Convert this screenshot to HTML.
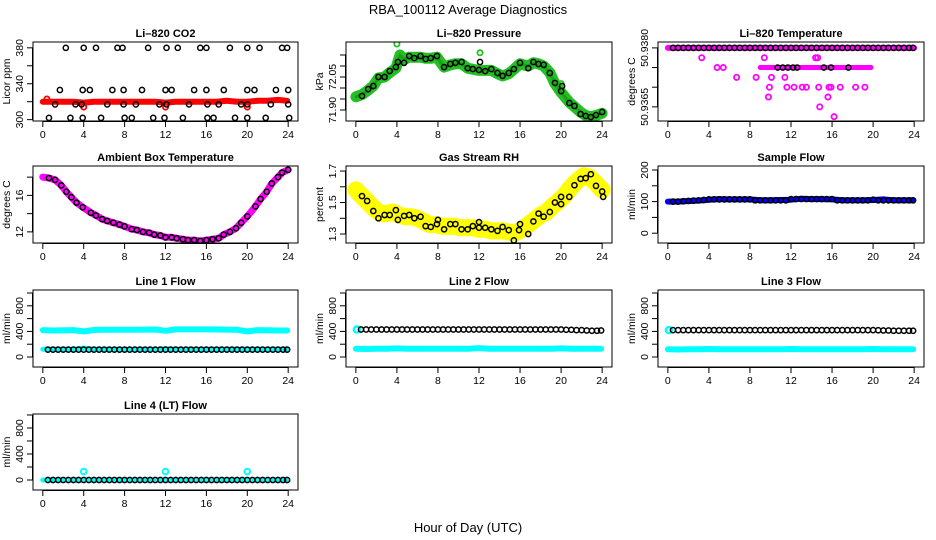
<!DOCTYPE html>
<html><head><meta charset="utf-8"><style>
html,body{margin:0;padding:0;background:#fff;}
svg{display:block;font-family:"Liberation Sans",Arial,sans-serif;}
</style></head><body>
<svg id="chart" width="936" height="540" viewBox="0 0 936 540">
<text x="468" y="14" text-anchor="middle" font-size="13">RBA_100112  Average Diagnostics</text>
<text x="468" y="532" text-anchor="middle" font-size="13">Hour of Day (UTC)</text>
</svg>
<script>
// ---- data ----
const xTicks = [0,4,8,12,16,20,24];
const halfHours = [0.5,1,1.5,2,2.5,3,3.5,4,4.5,5,5.5,6,6.5,7,7.5,8,8.5,9,9.5,10,10.5,11,11.5,12,12.5,13,13.5,14,14.5,15,15.5,16,16.5,17,17.5,18,18.5,19,19.5,20,20.5,21,21.5,22,22.5,23,23.5,23.9];
const hours = [0,1,2,3,4,5,6,7,8,9,10,11,12,13,14,15,16,17,18,19,20,21,22,23,23.9];

// CO2
const co2RedVals = [320,320,320,320,319,320,320,320,320,320,320,320,319,320,320,320,320,320,321,320,320,321,321,322,321];
const co2RedOutHours = [0.4,4,12,20];
const co2RedOutVals = [323,314,314,314];
const co2BlackHours = [2.25,4.0,5.2,7.3,7.8,10.3,12.1,13.2,15.4,16.0,18.3,20.0,21.2,23.4,23.9,
 1.67,3.9,4.6,6.8,7.9,9.7,12.0,12.6,14.8,16.0,17.7,20.0,20.7,22.8,24.0,
 1.2,3.2,3.8,6.3,7.9,9.1,11.4,12.1,14.3,16.1,17.2,19.4,20.0,22.3,24.0,
 0.6,2.7,3.9,5.7,8.0,8.7,10.8,11.9,13.7,16.1,16.7,18.8,20.0,21.8,24.1];
const co2BlackVals = [380,380,380,380,380,380,380,380,380,380,380,380,380,380,380,
 333,333,333,333,333,333,333,333,333,333,333,333,333,333,333,
 317,317,317,317,317,317,317,317,317,317,317,317,317,317,317,
 302,302,302,302,302,302,302,302,302,302,302,302,302,302,302];

// Pressure
const presHours = [0.6,1.2,1.7,2.2,2.8,3.3,3.9,4.1,4.7,5.2,5.7,6.3,6.8,7.3,7.9,8.6,9.2,9.7,10.3,10.9,11.4,12.0,12.1,12.6,13.2,13.8,14.3,14.9,15.4,16.0,16.8,17.3,17.8,18.3,18.9,19.4,20.0,20.1,20.8,21.3,21.9,22.4,22.9,23.4,24.0];
const presVals = [71.964,71.995,72.009,72.05,72.05,72.077,72.095,72.118,72.114,72.145,72.136,72.145,72.132,72.136,72.145,72.095,72.109,72.114,72.118,72.09,72.086,72.082,72.118,72.077,72.086,72.068,72.055,72.068,72.086,72.114,72.09,72.118,72.109,72.105,72.068,72.023,71.986,72.009,71.932,71.918,71.882,71.873,71.868,71.877,71.891];
const presGreenHours = [0,0.6,1.2,1.7,2.2,2.8,3.3,3.9,4.3,4.7,5.2,5.7,6.3,6.8,7.3,7.9,8.6,9.2,9.7,10.3,10.9,11.4,12.0,12.6,13.2,13.8,14.3,14.9,15.4,16.0,16.8,17.3,17.8,18.3,18.9,19.4,20.0,20.8,21.3,21.9,22.4,22.9,23.4,24.0];
const presGreenVals = [71.96,71.97,71.99,72.01,72.045,72.05,72.07,72.09,72.15,72.13,72.14,72.14,72.14,72.135,72.135,72.14,72.095,72.105,72.11,72.11,72.09,72.085,72.08,72.08,72.08,72.065,72.055,72.065,72.085,72.11,72.1,72.115,72.11,72.1,72.07,72.02,71.98,71.935,71.915,71.89,71.875,71.87,71.875,71.885];
const presOutHours = [4.0,12.1,20.0];
const presOutVals = [72.2,72.16,72.02];

// Temperature (Li-820)
const tempLineVals = [50.9380,50.9380];
const tempLineHours = [0,24];
const tempMagHours = [3.3,9.4,14.4,14.6,4.8,5.4,6.7,8.6,10.1,11.4,9.9,11.6,12.3,13.1,13.5,14.7,15.7,15.9,16.8,19.2,18.3,9.8,15.6,14.8,16.2];
const tempMagVals = [50.93775,50.93775,50.93775,50.93775,50.9375,50.9375,50.93725,50.93725,50.93725,50.93725,50.9370,50.9370,50.9370,50.9370,50.9370,50.9370,50.9370,50.9370,50.9370,50.9370,50.9370,50.93675,50.93675,50.9365,50.93625];
const tempMidBandHours = [9.0,19.8];
const tempMidBandVals = [50.9375,50.9375];
const tempBlackHighVals = halfHours.map(()=>50.9380);
const tempBlackMidHours = [10.7,11.2,11.7,12.2,12.6,15.2,15.9,17.6];
const tempBlackMidVals = [50.9375,50.9375,50.9375,50.9375,50.9375,50.9375,50.9375,50.9375];

// Ambient box temperature
const ambHours = [0.6,1.2,1.8,2.3,2.8,3.3,3.9,4.7,5.2,5.8,6.3,6.9,7.5,8.0,8.7,9.2,9.8,10.4,10.9,11.5,12.0,12.6,13.1,13.7,14.2,14.8,15.4,16.0,16.6,17.2,17.7,18.3,18.9,19.4,20.0,20.8,21.3,21.9,22.4,23.0,23.4,24.0];
const ambVals = [17.9,17.7,17.1,16.4,15.8,15.2,14.7,14.1,13.8,13.4,13.2,13.0,12.8,12.6,12.3,12.2,12.0,11.9,11.7,11.6,11.4,11.4,11.3,11.2,11.1,11.1,11.0,11.1,11.2,11.3,11.7,12.0,12.4,13.0,13.7,14.8,15.6,16.4,17.3,18.0,18.5,18.8];
const ambMagStartHour = [0];
const ambMagStartVal = [18.0];

// Gas stream RH
const rhHours = [0.6,1.1,1.7,2.2,2.8,3.3,3.9,4.1,4.7,5.2,5.7,6.3,6.8,7.3,7.9,8.0,8.6,9.2,9.7,10.3,10.9,11.4,12.0,12.0,12.6,13.2,13.8,14.3,14.9,15.4,16.0,15.9,16.8,17.3,17.8,18.3,18.9,19.4,20.0,20.0,20.8,21.3,21.9,22.4,22.9,23.4,24.0,24.1];
const rhVals = [1.541,1.51,1.446,1.40,1.421,1.421,1.452,1.39,1.415,1.421,1.40,1.41,1.35,1.345,1.363,1.39,1.33,1.363,1.363,1.33,1.33,1.35,1.34,1.376,1.34,1.33,1.32,1.345,1.325,1.26,1.363,1.325,1.30,1.38,1.43,1.41,1.44,1.50,1.536,1.49,1.536,1.61,1.65,1.655,1.68,1.606,1.57,1.536];
const rhYelHours = [0,0.6,1.2,1.8,2.4,3.0,3.6,4.2,4.8,5.4,6.0,6.6,7.2,7.8,8.4,9.0,9.6,10.2,10.8,11.4,12.0,12.6,13.2,13.8,14.4,15.0,15.6,16.2,16.8,17.4,18.0,18.6,19.2,19.8,20.4,21.0,21.6,22.2,22.8,23.4,24.0];
const rhYelVals = [1.58,1.54,1.5,1.46,1.43,1.43,1.44,1.42,1.41,1.41,1.4,1.38,1.36,1.36,1.35,1.35,1.35,1.34,1.34,1.34,1.33,1.33,1.32,1.32,1.32,1.31,1.31,1.33,1.36,1.39,1.42,1.44,1.48,1.51,1.55,1.6,1.64,1.67,1.66,1.62,1.58];

// Sample flow
const sampBlueVals = [100,100,102,103,106,108,107,107,107,104,104,105,106,109,108,108,107,104,104,104,105,107,104,104,104];
const sampBlackVals = [100,100,101,102,103,104,105,107,107,107,107,107,107,107,107,107,104,104,104,104,104,104,104,108,108,108,108,108,108,108,108,108,104,104,104,104,104,104,104,106,104,104,104,104,104,104,104,104];

// Line flows
const line1CyanHigh = [420,415,418,420,400,422,425,425,425,425,428,430,410,432,432,432,432,430,428,425,400,420,418,415,415];
const line1CyanLow = [120,120,120,120,140,120,120,120,120,120,120,120,130,120,120,120,120,120,120,120,120,120,120,120,120];
const line1Black = halfHours.map(()=>115);
const line2CyanLow = [130,125,130,130,135,130,130,130,130,130,130,130,140,130,130,130,130,130,130,130,135,130,130,130,130];
const line2Black = [430,430,430,430,430,430,430,430,430,430,430,430,430,430,430,430,430,430,430,430,430,430,430,430,430,430,430,430,430,430,430,430,430,430,430,430,430,430,430,430,425,425,420,420,415,410,410,415];
const line3CyanLow = [120,118,120,120,125,120,120,120,120,120,120,120,125,120,120,120,120,120,120,120,125,120,120,120,120];
const line3Black = [420,420,420,420,420,420,420,420,420,420,420,420,420,420,420,420,420,420,420,420,420,420,420,420,420,420,420,420,420,420,420,420,420,420,420,420,420,420,420,420,418,415,415,410,410,410,410,410];
const flowStartHour = [0.1];
const line2Start = [430];
const line3Start = [420];
const line4Cyan = [0,0,0,0,0,0,0,0,0,0,0,0,0,0,0,0,0,0,0,0,0,0,0,0,0];
const line4Black = halfHours.map(()=>0);
const line4OutHours = [4,12,20];
const line4OutVals = [130,130,130];

// ---- drawing ----
const svg = document.getElementById('chart');
const NS = 'http://www.w3.org/2000/svg';
function mk(parent, tag, attrs, name, inter){
  const e = document.createElementNS(NS, tag);
  for (const k in attrs) e.setAttribute(k, attrs[k]);
  
  
  parent.appendChild(e);
  return e;
}
const cols = [[33,298],[346,612],[658,924]];
const rows = [[42,121],[166,243],[290,367],[414,490]];
function panel(key, col, row, title, ylab, ylo, yhi, yticks, ylabels){
  const [x0,x1] = cols[col], [y0,y1] = rows[row];
  const g = mk(svg, 'g', {}, key + '-panel', false);
  const sx = h => x0 + (h + 0.96) / 25.92 * (x1 - x0);
  const sy = v => y1 - (v - ylo) / (yhi - ylo) * (y1 - y0);
  const clip = mk(g, 'clipPath', {id: 'clip-' + key}, key + '-clip', false);
  mk(clip, 'rect', {x: x0, y: y0, width: x1 - x0, height: y1 - y0}, key + '-clip-rect', false);
  const plot = mk(g, 'g', {'clip-path': 'url(#clip-' + key + ')'}, key + '-plot-area', false);
  const t = mk(g, 'text', {x: (x0 + x1) / 2, y: y0 - 5, 'text-anchor': 'middle', 'font-size': 11, 'font-weight': 'bold'}, key + '-title', false);
  t.textContent = title;
  const xa = mk(g, 'g', {stroke: '#000', 'stroke-width': 1}, key + '-x-axis', false);
  mk(xa, 'line', {x1: sx(0), x2: sx(24), y1: y1 + 0.5, y2: y1 + 0.5}, key + '-x-axis-line', false);
  xTicks.forEach(v => {
    mk(xa, 'line', {x1: sx(v), x2: sx(v), y1: y1, y2: y1 + 6}, key + '-x-tick', false);
    const lt = mk(g, 'text', {x: sx(v), y: y1 + 17, 'text-anchor': 'middle', 'font-size': 10.5}, key + '-x-tick-label', false);
    lt.textContent = v;
  });
  yticks.forEach((v, i) => {
    mk(xa, 'line', {x1: x0 - 6, x2: x0, y1: sy(v), y2: sy(v)}, key + '-y-tick', false);
    if (ylabels[i] !== '') {
      const yy = sy(v);
      const lt = mk(g, 'text', {x: x0 - 10, y: yy, transform: 'rotate(-90 ' + (x0 - 10) + ' ' + yy + ')', 'text-anchor': 'middle', 'font-size': 10.5}, key + '-y-tick-label', false);
      lt.textContent = ylabels[i];
    }
  });
  mk(xa, 'line', {x1: x0 - 0.5, x2: x0 - 0.5, y1: sy(yticks[0]), y2: sy(yticks[yticks.length - 1])}, key + '-y-axis-line', false);
  const yt = mk(g, 'text', {x: x0 - 23, y: (y0 + y1) / 2, transform: 'rotate(-90 ' + (x0 - 23) + ' ' + (y0 + y1) / 2 + ')', 'text-anchor': 'middle', 'font-size': 10.5}, key + '-y-axis-title', false);
  yt.textContent = ylab;
  mk(g, 'rect', {x: x0, y: y0, width: x1 - x0, height: y1 - y0, fill: 'none', stroke: '#000', 'stroke-width': 1}, key + '-frame', false);
  return {sx, sy, plot, key};
}
function band(P, xs, ys, color, w, name){
  const pts = xs.map((h, i) => P.sx(h).toFixed(1) + ',' + P.sy(ys[i]).toFixed(1)).join(' ');
  mk(P.plot, 'polyline', {points: pts, fill: 'none', stroke: color, 'stroke-width': w, 'stroke-linejoin': 'round', 'stroke-linecap': 'round'}, P.key + '-' + name, false);
}
function pts(P, xs, ys, color, name, r, sw){
  const g = mk(P.plot, 'g', {fill: 'none', stroke: color, 'stroke-width': sw || 1.5}, P.key + '-' + name, false);
  xs.forEach((h, i) => {
    const c = document.createElementNS(NS, 'circle');
    c.setAttribute('cx', P.sx(h));
    c.setAttribute('cy', P.sy(ys[i]));
    c.setAttribute('r', r || 2.6);
    
    
    g.appendChild(c);
  });
}

let P = panel('co2', 0, 0, 'Li\u2013820 CO2', 'Licor ppm', 298.5, 386.5, [300,320,340,360,380], ['300','','340','','380']);
band(P, hours, co2RedVals, '#ff0000', 6, 'red-band');
pts(P, co2RedOutHours, co2RedOutVals, '#ff0000', 'red-points', 2.6, 1.8);
pts(P, co2BlackHours, co2BlackVals, '#000', 'black-points');

P = panel('pressure', 1, 0, 'Li\u2013820 Pressure', 'kPa', 71.85, 72.209, [71.90,71.95,72.00,72.05,72.10,72.15], ['71.90','','','72.05','','']);
band(P, presGreenHours, presGreenVals, '#22c022', 11, 'green-band');
band(P, presGreenHours, presGreenVals, '#1aa01a', 3, 'green-band-core');
pts(P, presOutHours, presOutVals, '#22c022', 'green-outliers', 2.6, 1.8);
pts(P, presHours, presVals, '#000', 'black-points');

P = panel('temperature', 2, 0, 'Li\u2013820 Temperature', 'degrees C', 50.93614, 50.93815, [50.9365,50.9370,50.9375,50.9380], ['50.9365','','','50.9380']);
band(P, tempLineHours, tempLineVals, '#ff00ff', 6, 'magenta-top-band');
band(P, tempMidBandHours, tempMidBandVals, '#ff00ff', 5, 'magenta-mid-band');
pts(P, tempMagHours, tempMagVals, '#ff00ff', 'magenta-points', 2.6, 1.8);
pts(P, halfHours, tempBlackHighVals, '#000', 'black-points-top');
pts(P, tempBlackMidHours, tempBlackMidVals, '#000', 'black-points-mid');

P = panel('ambient', 0, 1, 'Ambient Box Temperature', 'degrees C', 10.78, 19.22, [12,14,16,18], ['12','','16','']);
band(P, ambMagStartHour.concat(ambHours), ambMagStartVal.concat(ambVals), '#ff00ff', 7, 'magenta-band');
pts(P, ambHours, ambVals, '#000', 'black-points');

P = panel('rh', 1, 1, 'Gas Stream RH', 'percent', 1.243, 1.732, [1.3,1.4,1.5,1.6,1.7], ['1.3','','1.5','','1.7']);
band(P, rhYelHours, rhYelVals, '#ffff00', 17, 'yellow-band');
pts(P, rhHours, rhVals, '#000', 'black-points');

P = panel('sample', 2, 1, 'Sample Flow', 'ml/min', -31, 212.6, [0,50,100,150,200], ['0','','100','','200']);
band(P, hours, sampBlueVals, '#0000ff', 6, 'blue-band');
pts(P, halfHours, sampBlackVals, '#000', 'black-points');

const fT = [0,200,400,600,800,1000], fL = ['0','','400','','800',''];
P = panel('line1', 0, 2, 'Line 1 Flow', 'ml/min', -156, 1047, fT, fL);
band(P, hours, line1CyanHigh, '#00ffff', 6, 'cyan-high-band');
band(P, hours, line1CyanLow, '#00ffff', 5, 'cyan-low-band');
pts(P, halfHours, line1Black, '#000', 'black-points');
P = panel('line2', 1, 2, 'Line 2 Flow', 'ml/min', -156, 1047, fT, fL);
band(P, hours, line2CyanLow, '#00ffff', 6, 'cyan-low-band');
pts(P, flowStartHour, line2Start, '#00ffff', 'cyan-start', 3, 2.5);
pts(P, halfHours, line2Black, '#000', 'black-points');
P = panel('line3', 2, 2, 'Line 3 Flow', 'ml/min', -156, 1047, fT, fL);
band(P, hours, line3CyanLow, '#00ffff', 6, 'cyan-low-band');
pts(P, flowStartHour, line3Start, '#00ffff', 'cyan-start', 3, 2.5);
pts(P, halfHours, line3Black, '#000', 'black-points');
P = panel('line4', 0, 3, 'Line 4 (LT) Flow', 'ml/min', -154, 1015, fT, fL);
band(P, hours, line4Cyan, '#00ffff', 5, 'cyan-band');
pts(P, line4OutHours, line4OutVals, '#00ffff', 'cyan-outliers', 2.8, 2);
pts(P, halfHours, line4Black, '#000', 'black-points');
</script>
</body></html>
